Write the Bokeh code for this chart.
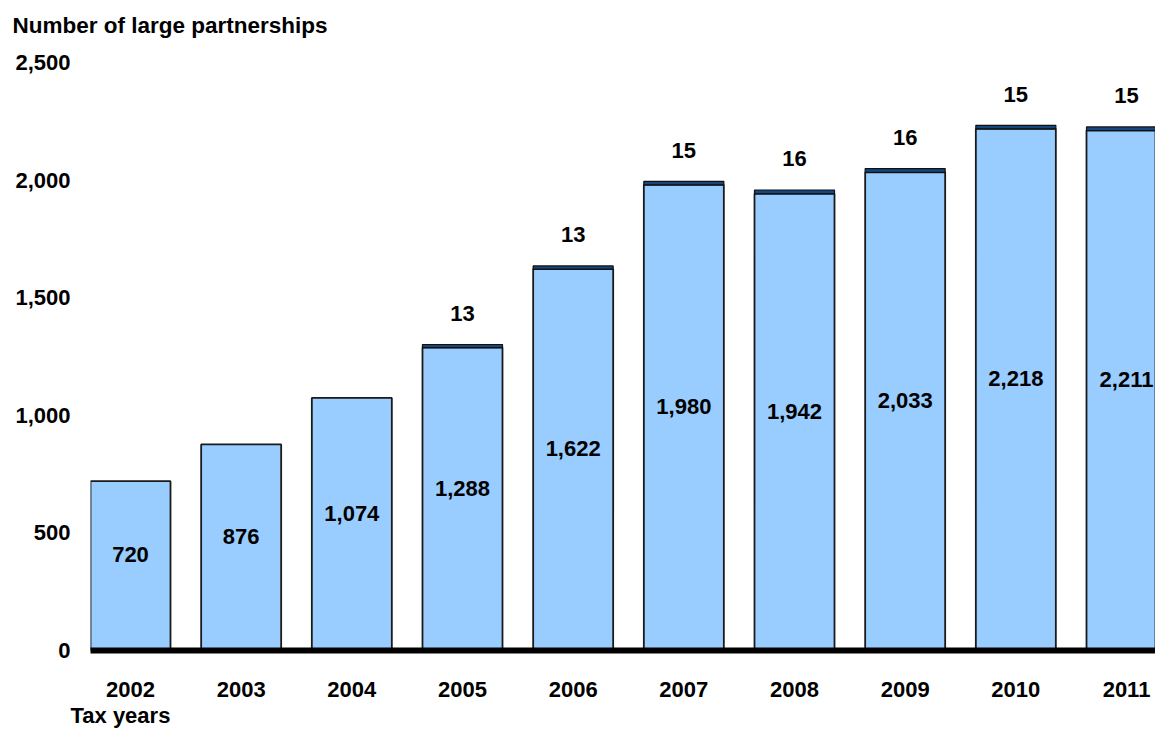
from bokeh.plotting import figure
from bokeh.models import ColumnDataSource, Range1d, FixedTicker, NumeralTickFormatter, LinearAxis, Title
from bokeh.embed import file_html
from bokeh.resources import INLINE
from bokeh.core.properties import value

# ---- data ----
years = ["2002", "2003", "2004", "2005", "2006", "2007", "2008", "2009", "2010", "2011"]
large_main = [720, 876, 1074, 1288, 1622, 1980, 1942, 2033, 2218, 2211]
large_top = [None, None, None, 13, 13, 15, 16, 16, 15, 15]
y_ticks = [0, 500, 1000, 1500, 2000, 2500]
y_title = "Number of large partnerships"
x_title = "Tax years"

FONT = "Liberation Sans"
FS = "22px"
LIGHT = "#99CCFF"
DARK = "#15467D"

xs = list(range(len(years)))
base_src = ColumnDataSource(dict(
    x=xs, top=large_main, mid=[v / 2 for v in large_main],
    lab=[f"{v:,}" for v in large_main]))

tx, tb, tt, tl = [], [], [], []
for i, (b, t) in enumerate(zip(large_main, large_top)):
    if t is not None:
        tx.append(i); tb.append(b); tt.append(b + t); tl.append(f"{t:,}")
top_src = ColumnDataSource(dict(x=tx, bottom=tb, top=tt, lab=tl))

p = figure(width=1155, height=735, output_backend="svg", toolbar_location=None,
           x_range=Range1d(-0.3614, 9.262), y_range=Range1d(0, 2593.6),
           min_border_left=90, min_border_right=0, min_border_top=40, min_border_bottom=85,
           x_axis_location=None, y_axis_location=None)
p.outline_line_color = None
p.xgrid.visible = False
p.ygrid.visible = False
p.background_fill_color = "white"

W = 0.723
p.vbar(x="x", top="top", bottom=0, width=W, source=base_src,
       fill_color=LIGHT, line_color="#1a1a1a", line_width=1.8)
p.vbar(x="x", top="top", bottom="bottom", width=W, source=top_src,
       fill_color=DARK, line_color="#111111", line_width=1.2)

p.text(x="x", y="mid", text="lab", source=base_src, text_align="center",
       text_baseline="middle", y_offset=-11, text_font=value(FONT),
       text_font_size=FS, text_font_style="bold", text_color="black")
p.text(x="x", y="top", text="lab", source=top_src, text_align="center",
       text_baseline="middle", y_offset=-31, text_font=value(FONT),
       text_font_size=FS, text_font_style="bold", text_color="black")

yax = LinearAxis(ticker=FixedTicker(ticks=y_ticks), formatter=NumeralTickFormatter(format="0,0"))
yax.axis_line_color = None
yax.major_tick_line_color = None
yax.minor_tick_line_color = None
yax.major_tick_out = 0
yax.major_label_standoff = 20
yax.major_label_text_font = FONT
yax.major_label_text_font_size = FS
yax.major_label_text_font_style = "bold"
yax.major_label_text_color = "black"
p.add_layout(yax, "left")

xax = LinearAxis(ticker=FixedTicker(ticks=xs),
                 major_label_overrides={i: y for i, y in enumerate(years)})
xax.axis_line_color = "black"
xax.axis_line_width = 6
xax.major_tick_line_color = None
xax.minor_tick_line_color = None
xax.major_tick_out = 0
xax.major_label_standoff = 31
xax.major_label_text_font = FONT
xax.major_label_text_font_size = FS
xax.major_label_text_font_style = "bold"
xax.major_label_text_color = "black"
p.add_layout(xax, "below")

p.add_layout(Title(text=y_title, align="left", offset=-78, standoff=6,
                   text_font=FONT, text_font_size="22.5px", text_font_style="bold",
                   text_color="black"), "above")
p.add_layout(Title(text=x_title, align="left", offset=-20, standoff=7,
                   vertical_align="top",
                   text_font=FONT, text_font_size=FS, text_font_style="bold",
                   text_color="black"), "below")

open("out.html", "w").write(file_html(p, INLINE))
